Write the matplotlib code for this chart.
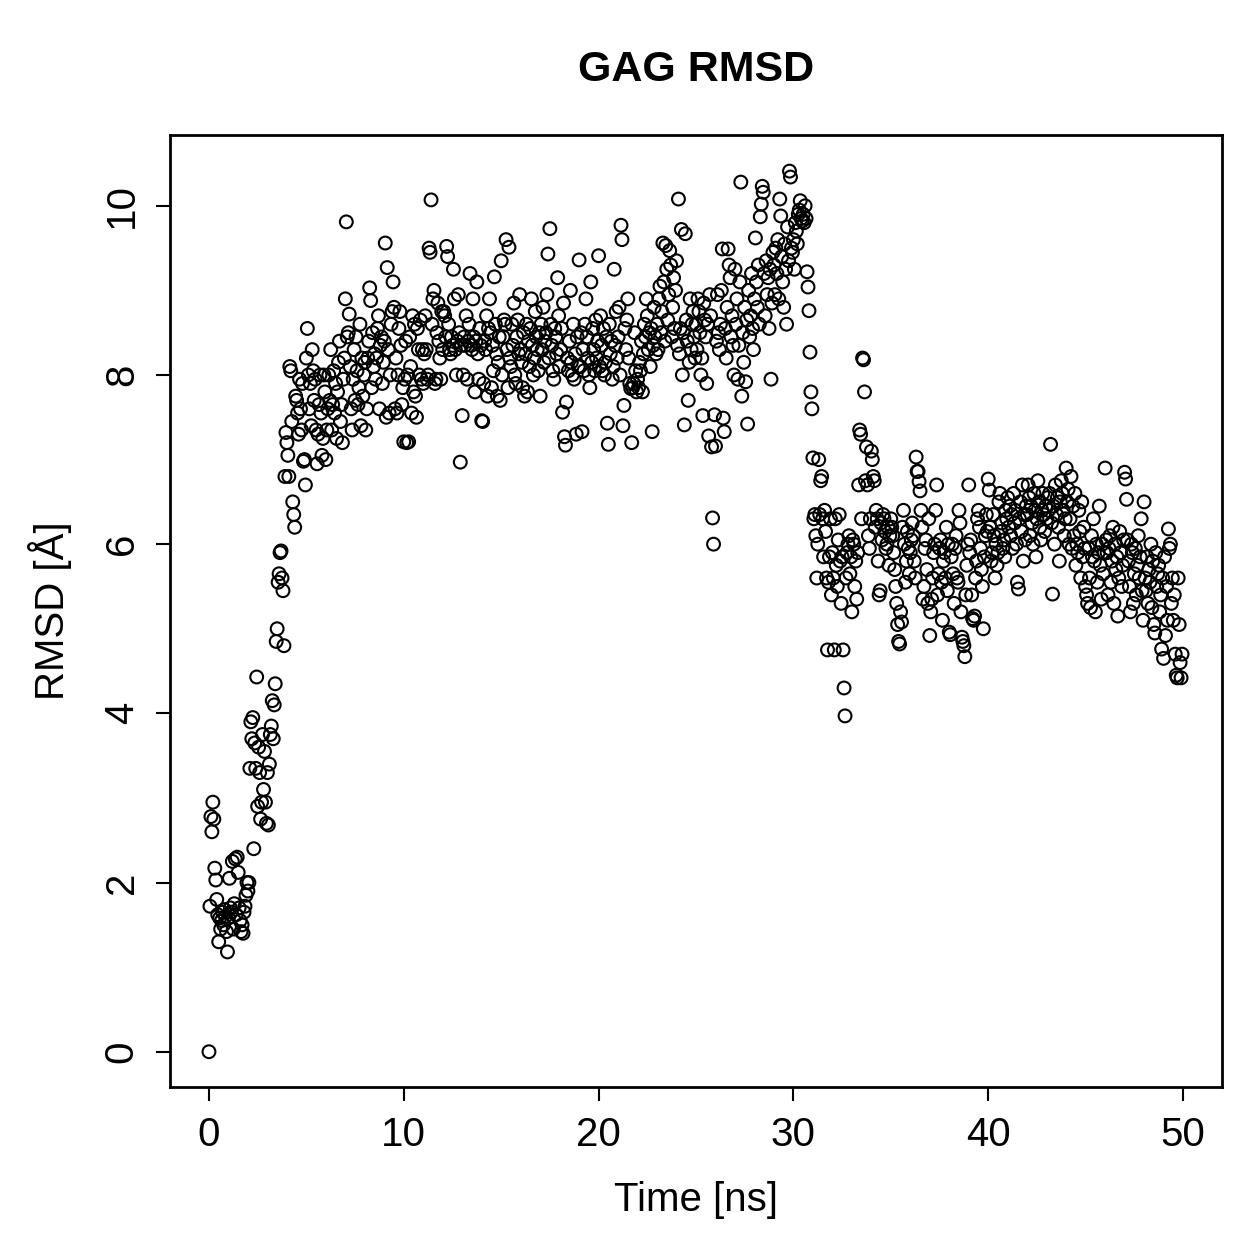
import numpy as np
import matplotlib
matplotlib.use('Agg')
import matplotlib.pyplot as plt

plt.rcParams['font.family'] = ['Liberation Sans', 'DejaVu Sans']

# RMSD values [Å], one row per nanosecond, sampled every 0.05 ns
rmsd = [
    0.0, 1.72, 2.78, 2.6, 2.95, 2.75, 2.17, 2.03, 1.8, 1.62, 1.3, 1.58, 1.45, 1.55, 1.65, 1.5, 1.68, 1.6, 1.42, 1.18,
    1.58, 2.05, 1.7, 1.65, 2.25, 1.45, 1.75, 2.28, 1.62, 2.3, 2.12, 1.7, 1.55, 1.42, 1.5, 1.4, 1.65, 1.72, 1.85, 2.0,
    1.9, 2.0, 3.35, 3.9, 3.7, 3.95, 2.4, 3.65, 3.35, 4.43, 2.9, 3.6, 3.3, 2.75, 2.95, 3.75, 3.1, 3.55, 2.95, 2.7,
    3.3, 2.68, 3.4, 3.75, 3.85, 4.15, 3.7, 4.1, 4.35, 4.85, 5.0, 5.55, 5.65, 5.9, 5.92, 5.6, 5.45, 4.8, 6.8, 7.32,
    7.2, 7.05, 6.8, 8.1, 8.05, 7.45, 6.5, 6.35, 6.2, 7.75, 7.7, 7.55, 7.3, 7.95, 7.6, 7.35, 7.9, 6.98, 7.0, 6.7,
    8.2, 8.55, 8.0, 7.6, 7.9, 7.4, 8.3, 8.05, 7.7, 7.95, 7.35, 6.95, 7.3, 7.65, 8.0, 7.55, 7.05, 7.25, 8.0, 7.8,
    7.0, 7.35, 7.6, 8.0, 7.7, 8.3, 7.35, 7.65, 8.05, 7.55, 7.9, 7.25, 7.8, 8.15, 8.4, 7.45, 7.65, 7.2, 7.95, 8.2,
    8.9, 9.81, 8.45, 8.5, 8.72, 8.1, 7.6, 7.35, 7.95, 8.3, 7.7, 8.45, 8.05, 7.65, 7.85, 8.6, 7.4, 8.2, 7.75, 8.0,
    8.15, 7.35, 7.6, 8.2, 8.4, 9.03, 8.88, 7.85, 8.5, 8.1, 8.25, 7.95, 8.2, 8.55, 8.7, 7.6, 8.35, 8.45, 7.9, 8.15,
    8.4, 9.56, 7.5, 9.27, 8.3, 7.55, 8.0, 8.6, 8.75, 9.1, 8.8, 7.6, 8.2, 7.55, 8.0, 8.55, 8.75, 8.35, 7.65, 7.85,
    7.21, 7.95, 8.4, 7.2, 8.0, 7.21, 8.45, 8.1, 7.55, 8.7, 7.8, 8.6, 7.75, 7.5, 8.55, 8.3, 8.0, 8.65, 7.95, 8.3,
    7.9, 8.25, 8.7, 8.3, 7.95, 8.0, 9.5, 9.45, 10.07, 8.6, 8.9, 9.0, 7.9, 7.95, 8.5, 8.85, 8.4, 8.2, 7.95, 8.75,
    8.3, 8.75, 8.7, 8.45, 9.52, 9.4, 8.6, 8.3, 8.25, 8.45, 8.35, 9.25, 8.9, 8.3, 8.0, 8.4, 8.95, 8.5, 6.97, 8.35,
    7.52, 8.0, 8.45, 8.35, 8.7, 7.95, 8.4, 8.6, 9.2, 8.35, 8.3, 8.9, 8.45, 7.8, 8.4, 9.1, 8.25, 7.95, 8.55, 8.35,
    7.46, 7.45, 7.9, 8.4, 8.3, 8.7, 7.75, 8.55, 8.9, 8.5, 7.85, 8.35, 8.05, 9.16, 8.6, 8.25, 7.75, 8.15, 8.45, 7.7,
    9.35, 8.0, 8.45, 8.65, 8.6, 9.6, 8.3, 7.85, 9.51, 8.2, 8.1, 8.6, 8.35, 8.85, 8.0, 7.9, 8.45, 8.65, 8.25, 8.95,
    8.3, 8.15, 7.85, 8.5, 7.75, 8.25, 8.6, 7.8, 8.4, 8.1, 8.55, 8.9, 8.35, 8.0, 8.2, 8.75, 8.45, 8.3, 8.05, 8.5,
    7.75, 8.6, 8.3, 8.8, 8.15, 8.4, 8.5, 8.95, 9.43, 8.2, 9.73, 8.6, 8.35, 8.05, 7.95, 8.55, 8.45, 8.25, 9.15, 8.7,
    8.1, 8.3, 8.55, 7.56, 8.85, 7.27, 7.17, 7.68, 8.2, 8.05, 8.4, 9.0, 8.15, 8.0, 8.6, 7.95, 8.25, 7.3, 8.45, 8.1,
    9.36, 8.1, 8.5, 7.33, 8.3, 8.05, 8.6, 8.9, 8.45, 8.2, 8.0, 7.85, 9.1, 8.15, 8.55, 8.3, 8.05, 8.65, 8.2, 8.4,
    9.41, 8.1, 8.7, 8.35, 8.05, 8.55, 8.0, 8.15, 8.45, 7.43, 7.18, 8.6, 8.25, 8.4, 7.95, 8.1, 9.25, 8.35, 8.75, 8.2,
    8.45, 8.8, 8.0, 9.77, 9.6, 7.4, 7.64, 8.55, 8.3, 8.65, 8.9, 8.2, 7.9, 7.84, 7.2, 7.85, 7.9, 8.5, 8.05, 7.8,
    7.95, 7.85, 8.15, 8.05, 8.4, 7.8, 8.25, 8.6, 8.45, 8.9, 8.7, 8.3, 8.5, 8.1, 8.55, 7.33, 8.35, 8.8, 8.45, 8.25,
    8.6, 8.3, 8.9, 9.05, 8.5, 8.75, 9.56, 9.1, 8.4, 9.53, 9.25, 8.65, 8.95, 9.47, 9.3, 8.45, 8.8, 9.15, 8.55, 9.0,
    9.35, 8.35, 10.08, 8.25, 8.55, 9.72, 8.0, 8.5, 7.41, 9.67, 8.65, 8.4, 7.7, 8.15, 8.9, 8.3, 8.6, 8.75, 8.45, 8.2,
    8.6, 8.3, 8.9, 8.75, 8.5, 8.0, 8.2, 7.52, 8.85, 8.65, 8.45, 7.9, 8.6, 7.28, 8.95, 8.7, 7.15, 6.31, 6.0, 7.53,
    7.16, 8.4, 8.95, 8.5, 8.3, 8.6, 9.0, 9.49, 7.49, 7.33, 8.55, 8.2, 8.8, 9.49, 9.3, 9.15, 8.45, 8.7, 8.35, 8.0,
    9.25, 8.6, 8.9, 7.95, 8.35, 9.1, 10.28, 7.75, 8.5, 8.15, 8.8, 7.92, 8.65, 7.42, 9.0, 8.45, 8.7, 9.2, 8.55, 8.3,
    8.9, 9.62, 9.1, 8.8, 9.3, 8.6, 9.87, 10.02, 10.23, 10.16, 9.2, 8.7, 9.35, 8.95, 9.15, 8.55, 9.25, 7.95, 8.85, 9.45,
    9.3, 8.95, 9.5, 9.2, 9.6, 8.9, 10.08, 9.88, 9.4, 9.1, 8.8, 9.55, 9.25, 8.6, 9.75, 9.35, 10.41, 10.34, 9.5, 9.45,
    9.6, 9.25, 9.8, 9.7, 9.55, 9.9, 9.95, 10.06, 9.85, 9.82, 9.9, 9.8, 10.0, 9.85, 9.22, 9.04, 8.76, 8.27, 7.8, 7.6,
    7.02, 6.3, 6.35, 6.1, 5.6, 6.0, 7.0, 6.35, 6.75, 6.8, 6.3, 5.85, 6.4, 6.15, 5.6, 4.75, 5.55, 5.85, 6.3, 5.4,
    5.9, 5.6, 4.75, 6.3, 5.75, 5.5, 6.05, 6.35, 5.8, 5.3, 5.85, 4.75, 4.3, 3.97, 5.6, 5.9, 6.0, 6.1, 5.65, 5.85,
    5.2, 6.05, 6.0, 5.5, 5.8, 5.35, 5.9, 6.7, 7.35, 7.3, 6.3, 8.2, 8.18, 7.8, 6.75, 7.15, 6.7, 6.1, 5.95, 6.3,
    7.1, 7.0, 6.8, 6.75, 6.2, 6.4, 6.3, 5.8, 5.4, 5.45, 6.25, 6.05, 6.35, 6.3, 6.15, 5.95, 6.0, 6.2, 5.75, 6.1,
    6.3, 6.2, 6.1, 5.9, 5.7, 5.5, 5.3, 5.05, 4.85, 4.82, 5.2, 5.08, 6.2, 6.4, 6.0, 5.55, 5.8, 6.15, 5.95, 5.65,
    5.9, 6.05, 6.25, 6.1, 5.8, 5.6, 7.03, 6.86, 6.86, 6.74, 6.63, 6.4, 6.2, 5.35, 5.5, 5.95, 6.05, 5.7, 5.3, 6.3,
    4.92, 5.2, 5.35, 5.6, 5.9, 6.0, 6.4, 6.7, 5.4, 5.65, 5.95, 6.05, 5.55, 5.1, 5.8, 5.9, 5.6, 6.2, 5.45, 6.0,
    4.96, 4.93, 5.85, 6.0, 5.65, 5.3, 5.95, 6.1, 5.6, 5.55, 6.4, 6.25, 5.2, 4.9, 4.85, 4.8, 4.67, 5.4, 5.75, 6.0,
    6.70, 5.9, 6.05, 5.4, 5.12, 5.1, 5.15, 5.6, 5.8, 6.3, 6.4, 6.2, 5.95, 5.7, 5.5, 5.0, 5.85, 6.1, 6.35, 6.15,
    6.77, 6.64, 6.2, 5.8, 5.9, 6.35, 6.1, 5.6, 6.0, 5.75, 5.9, 6.5, 6.6, 6.15, 6.25, 5.95, 6.05, 5.85, 6.4, 6.3,
    6.55, 6.2, 6.45, 6.1, 6.35, 5.95, 6.6, 6.25, 6.4, 6.0, 5.55, 5.47, 6.3, 6.5, 6.15, 6.7, 5.8, 6.35, 6.05, 6.45,
    6.35, 6.7, 6.55, 6.1, 6.45, 6.25, 6.0, 6.6, 6.4, 5.85, 6.3, 6.75, 6.5, 6.2, 6.05, 6.4, 6.6, 6.35, 6.15, 6.45,
    6.3, 6.55, 6.4, 6.6, 7.18, 6.25, 5.41, 6.45, 6.0, 6.7, 6.35, 6.55, 6.2, 5.8, 6.5, 6.75, 6.6, 6.4, 6.1, 6.3,
    6.9, 6.5, 6.65, 6.0, 6.3, 6.8, 5.95, 6.45, 6.1, 6.6, 5.75, 6.0, 5.9, 6.4, 6.15, 5.6, 6.5, 5.85, 6.2, 5.95,
    5.5, 5.4, 5.3, 5.95, 5.6, 5.25, 6.1, 5.85, 6.3, 5.8, 5.2, 6.0, 5.55, 5.9, 6.45, 5.75, 5.35, 6.0, 5.65, 5.9,
    6.9, 6.05, 5.9, 5.4, 5.95, 6.1, 5.55, 5.8, 6.2, 5.3, 6.0, 5.7, 5.85, 5.15, 5.6, 6.15, 5.9, 5.5, 5.75, 6.05,
    6.85, 6.77, 6.53, 6.05, 5.8, 5.5, 5.2, 6.0, 5.9, 5.3, 5.65, 5.95, 5.4, 5.75, 6.1, 5.6, 5.85, 6.3, 5.45, 5.1,
    6.5, 5.6, 5.45, 5.85, 5.3, 5.7, 5.55, 6.0, 5.25, 5.8, 5.05, 4.95, 5.9, 5.5, 5.65, 5.75, 5.2, 5.4, 4.76, 5.6,
    4.65, 5.85, 4.92, 5.5, 5.1, 6.18, 5.95, 6.0, 5.3, 5.6, 5.1, 5.4, 4.7, 4.45, 4.42, 5.6, 5.05, 4.6, 4.42, 4.7,
]
time_ns = np.arange(len(rmsd)) * 0.05

x_ticks = [0, 10, 20, 30, 40, 50]
y_ticks = [0, 2, 4, 6, 8, 10]

FS = 29

fig = plt.figure(figsize=(12.59, 12.59), dpi=100)
ax = fig.add_axes([170 / 1259, 1 - 1087 / 1259, (1222 - 170) / 1259, (1087 - 135) / 1259])

ax.scatter(time_ns, rmsd, s=85, facecolors='none', edgecolors='black', linewidths=1.5)

ax.set_xlim(-2, 52)
ax.set_ylim(-0.417, 10.837)
ax.set_xticks(x_ticks)
ax.set_yticks(y_ticks)
ax.set_yticklabels([str(v) for v in y_ticks], rotation=90, va='center')
ax.tick_params(direction='out', length=10, width=1.5, labelsize=FS, pad=11)
for s in ax.spines.values():
    s.set_linewidth(2.0)

fig.text(696 / 1259, 1 - 70 / 1259, "GAG RMSD", ha='center', va='center',
         fontsize=31, fontweight='bold')
fig.text(696 / 1259, 1 - 1200 / 1259, "Time [ns]", ha='center', va='center', fontsize=FS)
fig.text(50 / 1259, 1 - 611 / 1259, "RMSD [Å]", ha='center', va='center',
         rotation=90, fontsize=FS)

fig.savefig("out.png", dpi=100, facecolor='white')
